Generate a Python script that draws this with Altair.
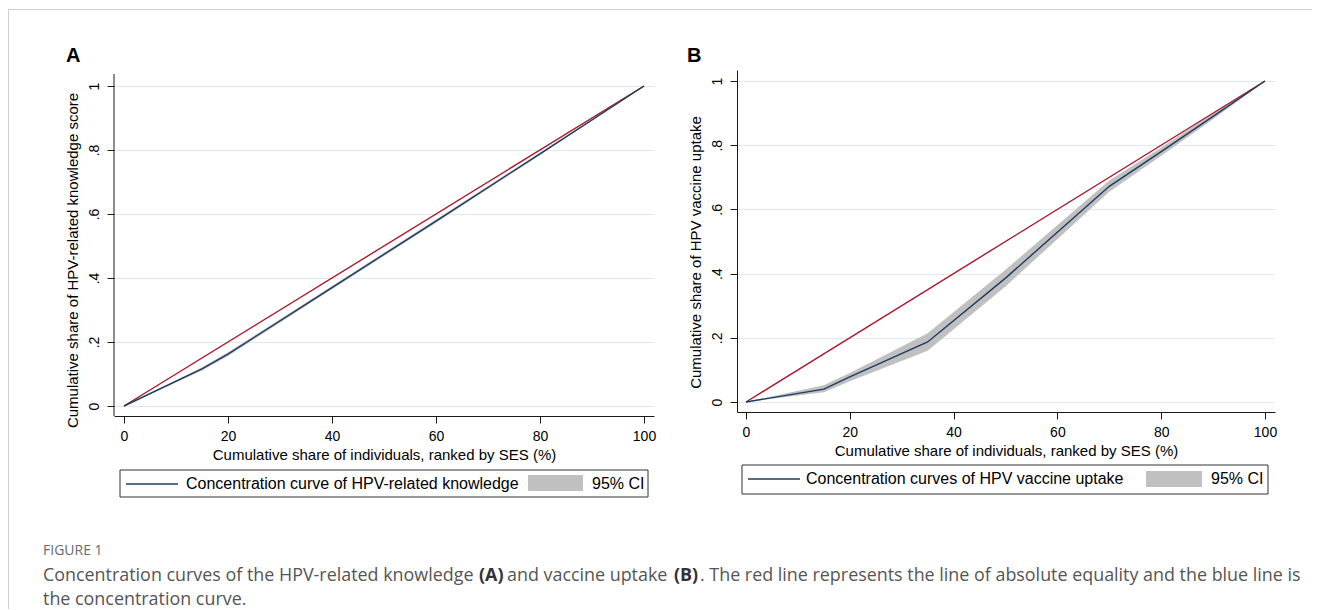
import altair as alt
import pandas as pd

# ---------------- data ----------------
# Panel A: concentration curve of HPV-related knowledge
a_x = [0, 15, 20, 40, 60, 80, 100]
a_y = [0, 0.116, 0.162, 0.370, 0.578, 0.788, 1.0]
a_lo = [0, 0.111, 0.156, 0.365, 0.573, 0.784, 1.0]
a_hi = [0, 0.121, 0.168, 0.375, 0.583, 0.792, 1.0]

# Panel B: concentration curve of HPV vaccine uptake
b_x = [0, 15, 20, 35, 50, 70, 80, 90, 100]
b_y = [0, 0.040, 0.078, 0.187, 0.386, 0.672, 0.780, 0.890, 1.0]
b_lo = [0, 0.030, 0.065, 0.160, 0.360, 0.655, 0.767, 0.881, 1.0]
b_hi = [0, 0.052, 0.090, 0.214, 0.412, 0.690, 0.793, 0.899, 1.0]

# line of absolute equality
eq_x = [0, 100]
eq_y = [0, 1]

x_ticks = [0, 20, 40, 60, 80, 100]
y_ticks = [0, 0.2, 0.4, 0.6, 0.8, 1.0]

x_title = "Cumulative share of individuals, ranked by SES (%)"
a_ytitle = "Cumulative share of HPV-related knowledge score"
b_ytitle = "Cumulative share of HPV vaccine uptake"
a_legend = "Concentration curve of HPV-related knowledge"
b_legend = "Concentration curves of HPV vaccine uptake"
ci_label = "95% CI"

cap_fig = "FIGURE 1"
cap_parts = [
    ("Concentration curves of the HPV-related knowledge", "normal"),
    ("(A)", "bold"),
    ("and vaccine uptake", "normal"),
    ("(B)", "bold"),
    (". The red line represents the line of absolute equality and the blue line is", "normal"),
]
cap_line2 = "the concentration curve."

# ---------------- style ----------------
FONT = "Liberation Sans"
CAPFONT = "Open Sans"
RED = "#a8172c"
NAVY = "#1d3b5f"
GREY = "#c0c0c0"
AXIS = "#1a1a1a"
GRID = "#e0eaed"

dummy = alt.Data(values=[{"k": 1}])


def deco_rect(x, x2, y, y2, fill, stroke=None):
    kw = dict(fill=fill)
    if stroke:
        kw.update(stroke=stroke, strokeWidth=1)
    return alt.Chart(dummy).mark_rect(**kw).encode(
        x=alt.value(x), x2=alt.value(x2), y=alt.value(y), y2=alt.value(y2))


def deco_text(txt, x, y, size, weight="normal", font=FONT, color="#000"):
    return alt.Chart(dummy).mark_text(
        text=txt, align="left", baseline="middle", font=font, fontSize=size,
        fontWeight=weight, color=color).encode(x=alt.value(x), y=alt.value(y))


def panel(xs, ys, los, his, ytitle, w, h, xdom, ydom, letter, lx, ly,
          leg_label, leg, own_domain, title_y):
    df = pd.DataFrame({"x": xs, "y": ys, "lo": los, "hi": his})
    eq = pd.DataFrame({"x": eq_x, "y": eq_y})
    xs_ = alt.Scale(domain=xdom, nice=False, zero=False)
    ys_ = alt.Scale(domain=ydom, nice=False, zero=False)
    xaxis = alt.Axis(values=x_ticks, format="d", title=x_title, grid=False,
                     tickSize=7, labelPadding=6, titlePadding=4)
    yaxis = alt.Axis(values=y_ticks, title=ytitle, grid=True, tickSize=7,
                     labelAngle=270, labelAlign="center", labelBaseline="bottom",
                     labelPadding=6, titlePadding=7, domain=not own_domain,
                     titleY=title_y,
                     labelExpr="datum.value == 0 ? '0' : (datum.value == 1 ? '1' : replace(format(datum.value, '.1f'), '0.', '.'))")
    band = alt.Chart(df).mark_area(color=GREY, opacity=1).encode(
        x=alt.X("x:Q", scale=xs_, axis=xaxis),
        y=alt.Y("lo:Q", scale=ys_, axis=yaxis),
        y2="hi:Q")
    eqline = alt.Chart(eq).mark_line(color=RED, strokeWidth=1.4).encode(
        x="x:Q", y="y:Q")
    curve = alt.Chart(df).mark_line(color=NAVY, strokeWidth=1.4).encode(
        x="x:Q", y="y:Q")
    layers = [band, eqline, curve]
    if own_domain:
        layers.append(alt.Chart(dummy).mark_rule(color=AXIS, strokeWidth=1).encode(
            x=alt.value(0), y=alt.value(own_domain), y2=alt.value(h)))
    layers.append(deco_text(letter, lx, ly, 20, "bold"))
    bx, bx2, by, by2, l1, l2, ty, tx, s1, s2, sy1, sy2, cx = leg
    layers += [
        deco_rect(bx, bx2, by, by2, "white", stroke="#333"),
        alt.Chart(dummy).mark_rule(color=NAVY, strokeWidth=1.4).encode(
            x=alt.value(l1), x2=alt.value(l2), y=alt.value(ty)),
        deco_text(leg_label, tx, ty, 16),
        deco_rect(s1, s2, sy1, sy2, GREY),
        deco_text(ci_label, cx, ty, 16),
    ]
    return alt.layer(*layers).properties(width=w, height=h)


# Panel A (plot origin at page 114, 71)
A = panel(a_x, a_y, a_lo, a_hi, a_ytitle, 540, 346,
          [-1.923, 101.923], [-0.03125, 1.05], "A", -48, -14, a_legend,
          (6, 534, 400, 427, 12, 64, 414, 72, 414, 469, 405, 421, 478), 4, 190)

# decorations belonging to whole figure (frame + caption), relative to panel A origin
CAPSIZE = 17.9
frame_caption = [
    deco_rect(-106, -105, -61, 539, "#cfcfcf"),
    deco_rect(-106, 1198, -61, -60, "#cfcfcf"),
    deco_text(cap_fig, -71, 481, 14, font=CAPFONT, color="#6a6a6a"),
]
cap_x = [-71, 365, 393, 560, 586]
for (txt, wt), cx in zip(cap_parts, cap_x):
    frame_caption.append(deco_text(txt, cx, 506, CAPSIZE, weight=wt, font=CAPFONT,
                                   color="#333" if wt == "bold" else "#555"))
frame_caption.append(deco_text(cap_line2, -71, 530, CAPSIZE, font=CAPFONT, color="#555"))
A = alt.layer(A, *frame_caption)

# Panel B (plot origin at page 737, 71)
B = panel(b_x, b_y, b_lo, b_hi, b_ytitle, 538, 342,
          [-1.734, 101.927], [-0.03115, 1.0343], "B", -50, -14, b_legend,
          (5, 531, 395, 424, 11, 63, 409, 69, 409, 465, 401, 417, 474), 0, 182)

chart = alt.hconcat(A, B, spacing=83, bounds="flush").properties(
    padding={"left": 0, "top": 1, "right": 0, "bottom": 0}
).configure_view(strokeWidth=0).configure_axis(
    labelFont=FONT, titleFont=FONT, labelFontSize=14, titleFontSize=15,
    titleFontWeight="normal", labelColor="#000", titleColor="#000",
    domainColor=AXIS, tickColor=AXIS, gridColor=GRID, gridWidth=1.2
)

chart.save("out.html", embed_options={"renderer": "svg", "actions": False})
